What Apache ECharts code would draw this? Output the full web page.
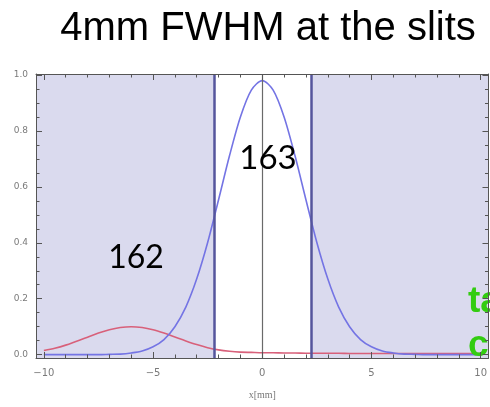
<!DOCTYPE html>
<html>
<head>
<meta charset="utf-8">
<script src="https://cdn.jsdelivr.net/npm/echarts@6/dist/echarts.min.js"></script>
<style>
  html, body { margin: 0; padding: 0; background: #fff; }
  #main { width: 490px; height: 407px; }
</style>
</head>
<body>
<div id="main"></div>
<script>
// positions along x [mm]
var xs = [-10, -9.5, -9, -8.5, -8, -7.5, -7, -6.5, -6, -5.5, -5, -4.5, -4, -3.5, -3, -2.5, -2, -1.5, -1, -0.5,
          0, 0.5, 1, 1.5, 2, 2.5, 3, 3.5, 4, 4.5, 5, 5.5, 6, 6.5, 7, 7.5, 8, 8.5, 9, 9.5, 10];
// beam 163 (blue)
var beam163 = [0, 0, 0, 0, 0, 0, 0.001, 0.002, 0.006, 0.013, 0.028, 0.054, 0.100, 0.170, 0.271, 0.401, 0.554, 0.711, 0.850, 0.946,
               0.980, 0.946, 0.850, 0.711, 0.554, 0.401, 0.271, 0.170, 0.100, 0.054, 0.028, 0.013, 0.006, 0.002, 0.001, 0, 0, 0, 0, 0, 0];
// beam 162 (red)
var beam162 = [0.015, 0.023, 0.034, 0.048, 0.062, 0.077, 0.089, 0.097, 0.100, 0.097, 0.089, 0.077, 0.063, 0.049, 0.036, 0.025, 0.017, 0.012, 0.009, 0.008,
               0.007, 0.007, 0.006, 0.006, 0.005, 0.005, 0.005, 0.005, 0.004, 0.004, 0.004, 0.004, 0.004, 0.004, 0.004, 0.004, 0.004, 0.004, 0.004, 0.004, 0.004];
// slit edges and tick positions
var slitLeft = -2.19, slitRight = 2.26;
var xMajor = [-10, -5, 0, 5, 10];
var xMinor = [-9, -8, -7, -6, -4, -3, -2, -1, 1, 2, 3, 4, 6, 7, 8, 9];
var yMajor = [0, 0.2, 0.4, 0.6, 0.8, 1.0];
var yMinor = [0.05, 0.1, 0.15, 0.25, 0.3, 0.35, 0.45, 0.5, 0.55, 0.65, 0.7, 0.75, 0.85, 0.9, 0.95];

var xMin = -10.36, xMax = 10.36, yMin = -0.012, yMax = 1.0036;
var frame = '#555';

function pairs(vals) {
    return xs.map(function (x, i) { return [x, vals[i]]; });
}

function xAx(pos, ticks, len, showLine, showLabel) {
    return {
        type: 'value', position: pos, min: xMin, max: xMax, z: 10,
        splitLine: { show: false },
        axisLine: { show: showLine, onZero: false, lineStyle: { color: frame, width: 1 } },
        axisTick: { show: true, inside: true, length: len, customValues: ticks, lineStyle: { color: frame } },
        axisLabel: {
            show: showLabel, customValues: xMajor, margin: 10,
            color: '#7a7a7a', fontFamily: 'DejaVu Sans', fontSize: 10,
            formatter: function (v) { return v < 0 ? '\u2212' + Math.abs(v) : String(v); }
        }
    };
}

function yAx(pos, ticks, len, showLine, showLabel) {
    return {
        type: 'value', position: pos, min: yMin, max: yMax, z: 10,
        splitLine: { show: false },
        axisLine: { show: showLine, onZero: false, lineStyle: { color: frame, width: 1 } },
        axisTick: { show: true, inside: true, length: len, customValues: ticks, lineStyle: { color: frame } },
        axisLabel: {
            show: showLabel, customValues: yMajor, margin: 8,
            color: '#7a7a7a', fontFamily: 'DejaVu Sans', fontSize: 9,
            formatter: function (v) { return v.toFixed(1); }
        }
    };
}

var bottomAxis = xAx('bottom', xMajor, 6, true, true);
bottomAxis.name = 'x[mm]';
bottomAxis.nameLocation = 'middle';
bottomAxis.nameGap = 32;
bottomAxis.nameTextStyle = { color: '#777', fontFamily: 'Liberation Serif', fontSize: 10 };

var option = {
    animation: false,
    backgroundColor: '#fff',
    grid: { left: 36, top: 74, width: 458, height: 284 },
    xAxis: [
        bottomAxis,
        xAx('bottom', xMinor, 3.5, false, false),
        xAx('top', xMajor, 6, true, false),
        xAx('top', xMinor, 3.5, false, false)
    ],
    yAxis: [
        yAx('left', yMajor, 6, true, true),
        yAx('left', yMinor, 3.5, false, false),
        yAx('right', yMajor, 6, true, false),
        yAx('right', yMinor, 3.5, false, false)
    ],
    series: [
        {
            type: 'line', name: '162', data: pairs(beam162), smooth: 0.3, symbol: 'none',
            lineStyle: { color: '#d8607a', width: 1.6 },
            markArea: {
                silent: true,
                itemStyle: { color: '#dadaee' },
                data: [
                    [{ xAxis: xMin }, { xAxis: slitLeft }],
                    [{ xAxis: slitRight }, { xAxis: xMax }]
                ]
            },
            z: 3
        },
        {
            type: 'line', name: '163', data: pairs(beam163), smooth: 0.3, symbol: 'none',
            lineStyle: { color: '#7474e4', width: 1.6 },
            markLine: {
                silent: true, symbol: 'none', label: { show: false },
                data: [
                    { xAxis: 0, lineStyle: { color: '#6a6a6a', width: 1.2, type: 'solid' } },
                    { xAxis: slitLeft, lineStyle: { color: '#55559c', width: 2.5, type: 'solid' } },
                    { xAxis: slitRight, lineStyle: { color: '#55559c', width: 2.5, type: 'solid' } }
                ]
            },
            z: 4
        }
    ],
    graphic: [
        { type: 'text', x: 268, y: 29, z: 10,
          style: { text: '4mm FWHM at the slits', fill: '#000', fontFamily: 'Liberation Sans', fontSize: 40, align: 'center', verticalAlign: 'middle' } },
        { type: 'text', x: 268, y: 158, z: 10,
          style: { text: '163', fill: '#000', fontFamily: 'Lato', fontSize: 33, align: 'center', verticalAlign: 'middle' } },
        { type: 'text', x: 136, y: 258, z: 10,
          style: { text: '162', fill: '#000', fontFamily: 'Lato', fontSize: 32, align: 'center', verticalAlign: 'middle' } },
        { type: 'text', x: 468, y: 302, z: 10,
          style: { text: 'ta', fill: '#33cc11', fontFamily: 'Liberation Sans', fontWeight: 'bold', fontSize: 37, align: 'left', verticalAlign: 'middle' } },
        { type: 'text', x: 468, y: 346, z: 10,
          style: { text: 'c', fill: '#33cc11', fontFamily: 'Liberation Sans', fontWeight: 'bold', fontSize: 37, align: 'left', verticalAlign: 'middle' } }
    ]
};

var chart = echarts.init(document.getElementById('main'));
chart.setOption(option);
</script>
</body>
</html>
